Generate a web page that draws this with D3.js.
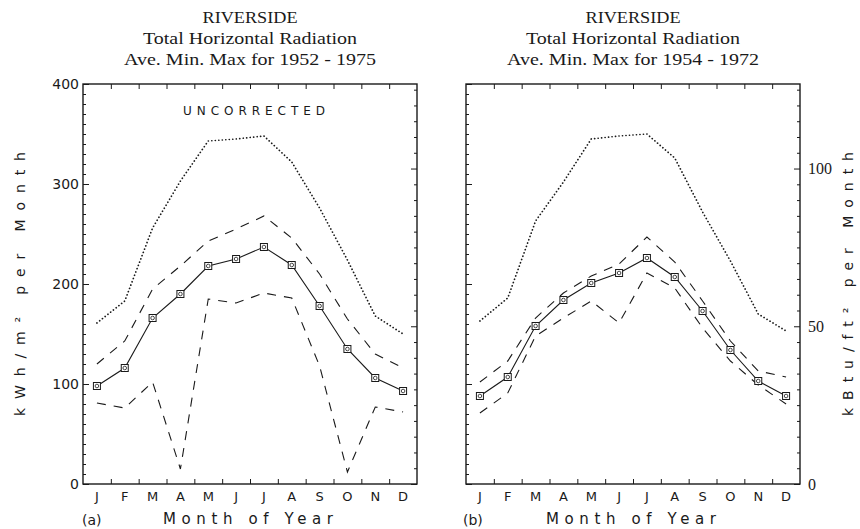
<!DOCTYPE html>
<html>
<head>
<meta charset="utf-8">
<script src="https://cdn.jsdelivr.net/npm/d3@7"></script>
<style>
    body { margin: 0; background: #fff; }
    text { fill: #1a1a1a; }
</style>
</head>
<body>
<svg id="chart" width="860" height="529"></svg>
<script>
var months = ['J', 'F', 'M', 'A', 'M', 'J', 'J', 'A', 'S', 'O', 'N', 'D'];
var kwhTicks = [0, 100, 200, 300, 400];
var btuTicks = [0, 50, 100];

// panel (a): 1952 - 1975, uncorrected, kWh/m2 per month
var aveA = [98, 116, 166, 190, 218, 225, 237, 219, 178, 135, 106, 93];
var upperA = [120, 143, 195, 218, 243, 255, 268, 246, 210, 165, 130, 116];
var lowerA = [81, 76, 102, 15, 185, 181, 191, 186, 118, 12, 77, 72];
var maxA = [161, 183, 256, 303, 343, 345, 348, 322, 276, 224, 168, 150];

// panel (b): 1954 - 1972
var aveB = [88, 107, 158, 184, 201, 211, 226, 207, 173, 134, 103, 88];
var upperB = [102, 123, 166, 191, 208, 220, 247, 222, 183, 143, 113, 107];
var lowerB = [71, 91, 148, 166, 183, 161, 211, 196, 156, 123, 99, 80];
var maxB = [163, 186, 263, 302, 345, 348, 350, 326, 272, 223, 170, 153];

var KWH_TO_KBTU = 0.317;
var ink = '#1a1a1a';
var top_ = 84;
var bottom = 484;

var svg = d3.select('#chart');
var y = d3.scaleLinear().domain([0, 400]).range([bottom, top_]);
var yBtu = d3.scaleLinear().domain([0, 400 * KWH_TO_KBTU]).range([bottom, top_]);

function tidy(sel) {
    sel.select('.domain').remove();
    sel.selectAll('line').attr('stroke', ink).attr('stroke-width', 1);
    return sel;
}

function ticksY(g, axis, scale, at, step, major, size) {
    var max = scale.domain()[1];
    var minor = d3.range(0, max + 0.01, step).filter(function(v) { return major.indexOf(v) < 0; });

    g.append('g')
        .attr('transform', 'translate(' + at + ',0)')
        .call(axis(scale).tickValues(minor).tickSize(-3).tickFormat(''))
        .call(tidy);

    return g.append('g')
        .attr('transform', 'translate(' + at + ',0)')
        .call(axis(scale).tickValues(major).tickSize(-size))
        .call(tidy);
}

function drawPanel(opt) {
    var x = d3.scaleBand().domain(d3.range(12)).range([opt.x0, opt.x1]);
    var xb = d3.scaleLinear().domain([0, 12]).range([opt.x0, opt.x1]);
    var cx = function(d, i) { return x(i) + x.bandwidth() / 2; };
    var mid = (opt.x0 + opt.x1) / 2;
    var g = svg.append('g');

    // titles
    [['RIVERSIDE', 23, 95], ['Total Horizontal Radiation', 44, 214], [opt.period, 65, 252]].forEach(function(t) {
        g.append('text')
            .attr('x', mid)
            .attr('y', t[1])
            .attr('text-anchor', 'middle')
            .attr('textLength', t[2])
            .attr('lengthAdjust', 'spacingAndGlyphs')
            .style('font-family', '"Liberation Serif", serif')
            .style('font-size', '16px')
            .text(t[0]);
    });

    // month boundary ticks, top and bottom
    g.append('g')
        .attr('transform', 'translate(0,' + top_ + ')')
        .call(d3.axisTop(xb).tickValues(d3.range(1, 12)).tickSize(-5).tickFormat(''))
        .call(tidy);
    g.append('g')
        .attr('transform', 'translate(0,' + bottom + ')')
        .call(d3.axisBottom(xb).tickValues(d3.range(1, 12)).tickSize(-5).tickFormat(''))
        .call(tidy);

    // month names
    var mx = g.append('g')
        .attr('transform', 'translate(0,' + bottom + ')')
        .call(d3.axisBottom(x).tickSize(0).tickPadding(8).tickFormat(function(i) { return months[i]; }));
    mx.select('.domain').remove();
    mx.selectAll('text')
        .style('font-family', '"DejaVu Sans", sans-serif')
        .style('font-size', '13px')
        .attr('fill', ink);

    // left kWh ticks
    var ly = ticksY(g, d3.axisLeft, y, opt.x0, 10, kwhTicks, 6);
    ly.selectAll('text')
        .attr('fill', ink)
        .style('font-family', '"DejaVu Sans", sans-serif')
        .style('font-size', '14px')
        .text(opt.leftLabels ? function(d) { return d; } : '');
    ly.selectAll('.tick text').attr('x', -4);

    // right kBtu ticks
    var ry = ticksY(g, d3.axisRight, yBtu, opt.x1, 5, btuTicks, 6);
    ry.selectAll('text')
        .attr('fill', ink)
        .attr('x', 8)
        .style('font-family', '"Liberation Serif", serif')
        .style('font-size', '16px')
        .text(opt.rightLabels ? function(d) { return d; } : '');

    // frame
    g.append('rect')
        .attr('x', opt.x0)
        .attr('y', top_)
        .attr('width', opt.x1 - opt.x0)
        .attr('height', bottom - top_)
        .attr('fill', 'none')
        .attr('stroke', ink)
        .attr('stroke-width', 1.4);

    var line = d3.line().x(cx).y(function(d) { return y(d); });

    g.append('path').datum(opt.max).attr('d', line)
        .attr('fill', 'none').attr('stroke', ink).attr('stroke-width', 1.7)
        .attr('stroke-linecap', 'round').attr('stroke-dasharray', '0.1,3.4');
    [opt.upper, opt.lower].forEach(function(s) {
        g.append('path').datum(s).attr('d', line)
            .attr('fill', 'none').attr('stroke', ink).attr('stroke-width', 1.1)
            .attr('stroke-dasharray', '9,8');
    });
    g.append('path').datum(opt.ave).attr('d', line)
        .attr('fill', 'none').attr('stroke', ink).attr('stroke-width', 1.1);

    var mk = g.selectAll('.mk').data(opt.ave).enter().append('g')
        .attr('transform', function(d, i) { return 'translate(' + cx(d, i) + ',' + y(d) + ')'; });
    mk.append('rect')
        .attr('x', -3.5).attr('y', -3.5).attr('width', 7).attr('height', 7)
        .attr('fill', '#fff').attr('stroke', ink).attr('stroke-width', 1);
    mk.append('circle').attr('r', 1.8).attr('fill', 'none').attr('stroke', ink).attr('stroke-width', 0.8);

    // x title and panel letter
    g.append('text')
        .attr('x', mid - 2)
        .attr('y', 524)
        .attr('text-anchor', 'middle')
        .attr('textLength', 170)
        .attr('lengthAdjust', 'spacing')
        .style('font-family', '"DejaVu Sans", sans-serif')
        .style('font-size', '15px')
        .text('Month of Year');
    g.append('text')
        .attr('x', opt.x0 - 1 - (opt.tag === '(b)' ? 2 : 0))
        .attr('y', 525)
        .style('font-family', '"DejaVu Sans", sans-serif')
        .style('font-size', '14px')
        .text(opt.tag);

    if (opt.note) {
        g.append('text')
            .attr('x', 183)
            .attr('y', 115)
            .attr('textLength', 142)
            .attr('lengthAdjust', 'spacing')
            .style('font-family', '"DejaVu Sans", sans-serif')
            .style('font-size', '12px')
            .text(opt.note);
    }
}

drawPanel({
    x0: 83, x1: 417, period: 'Ave. Min. Max for 1952 - 1975', tag: '(a)', note: 'UNCORRECTED',
    ave: aveA, upper: upperA, lower: lowerA, max: maxA, leftLabels: true, rightLabels: false
});
drawPanel({
    x0: 466, x1: 800, period: 'Ave. Min. Max for 1954 - 1972', tag: '(b)',
    ave: aveB, upper: upperB, lower: lowerB, max: maxB, leftLabels: false, rightLabels: true
});

// vertical axis titles
function yTitle(x, label, len) {
    svg.append('text')
        .attr('transform', 'translate(' + x + ',284) rotate(-90)')
        .attr('text-anchor', 'middle')
        .attr('textLength', len)
        .attr('lengthAdjust', 'spacing')
        .style('font-family', '"DejaVu Sans", sans-serif')
        .style('font-size', '14px')
        .text(label);
}
yTitle(25, 'kWh/m² per Month', 264);
yTitle(853, 'kBtu/ft² per Month', 264);
</script>
</body>
</html>
